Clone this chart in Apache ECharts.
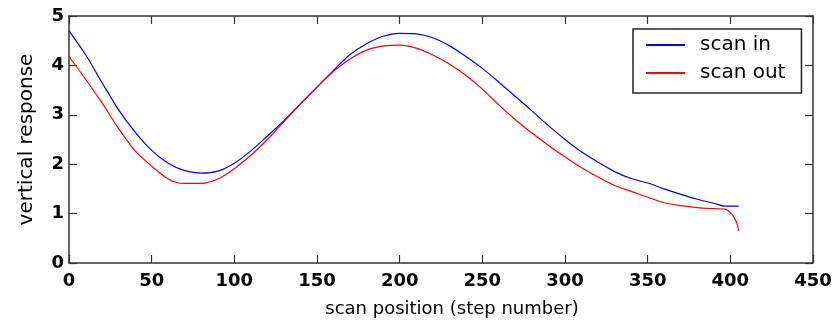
<!DOCTYPE html>
<html><head><meta charset="utf-8">
<script src="https://cdn.jsdelivr.net/npm/echarts@6/dist/echarts.min.js"></script>
<style>html,body{margin:0;padding:0;background:#fff}#c{width:839px;height:320px}</style>
</head><body><div id="c"></div>
<script>
const xTicks = [0, 50, 100, 150, 200, 250, 300, 350, 400, 450];
const yTicks = [0, 1, 2, 3, 4, 5];
const seriesNames = ['scan in', 'scan out'];

const scanInX = [0,10,20,30,40,50,60,70,80,90,100,110,120,130,140,150,160,170,180,190,200,210,220,230,240,250,260,270,280,290,300,310,320,330,340,350,360,370,380,390,397,405];
const scanInY = [4.70,4.22,3.65,3.10,2.65,2.28,2.02,1.87,1.82,1.86,2.02,2.27,2.57,2.88,3.22,3.56,3.90,4.22,4.44,4.59,4.65,4.64,4.56,4.40,4.18,3.94,3.66,3.37,3.08,2.78,2.50,2.25,2.04,1.85,1.71,1.62,1.50,1.39,1.29,1.21,1.15,1.15];

const scanOutX = [0,10,20,30,40,50,60,65,70,80,90,100,110,120,130,140,150,160,170,180,190,200,210,220,230,240,250,260,270,280,290,300,310,320,330,340,350,360,370,380,390,397,400,402,404,405];
const scanOutY = [4.18,3.72,3.24,2.72,2.27,1.96,1.70,1.63,1.61,1.61,1.70,1.91,2.18,2.50,2.86,3.22,3.56,3.88,4.13,4.31,4.39,4.41,4.35,4.21,4.03,3.80,3.52,3.20,2.90,2.63,2.38,2.15,1.93,1.74,1.57,1.45,1.33,1.22,1.16,1.12,1.10,1.09,1.02,0.94,0.80,0.65];

const zip = (xs, ys) => xs.map((x, i) => [x, ys[i]]);

const chart = echarts.init(document.getElementById('c'), null, {renderer: 'canvas'});
const tickFont = {fontFamily: 'DejaVu Sans', fontWeight: 'bold', fontSize: 18, color: '#000'};
const axLine = {show: true, onZero: false, lineStyle: {color: '#333', width: 1.5}};
const tick = {show: true, inside: true, length: 8, lineStyle: {color: '#333', width: 1.2}};
const xMin = xTicks[0], xMax = xTicks[xTicks.length - 1], xInt = xTicks[1] - xTicks[0];
const yMin = yTicks[0], yMax = yTicks[yTicks.length - 1], yInt = yTicks[1] - yTicks[0];

chart.setOption({
  animation: false,
  backgroundColor: '#fff',
  grid: {left: 69, right: 26, top: 16, bottom: 57, containLabel: false, outerBoundsMode: 'none'},
  legend: {
    data: seriesNames,
    orient: 'vertical',
    left: 633, top: 29,
    padding: [6, 16, 10, 13],
    itemWidth: 39, itemHeight: 2, itemGap: 8, itemTextGap: 5,
    icon: 'rect',
    borderColor: '#222', borderWidth: 1.5,
    backgroundColor: '#fff',
    textStyle: {fontFamily: 'DejaVu Sans', fontSize: 20, color: '#000', lineHeight: 20, padding: [0, 0, 0, 10]}
  },
  xAxis: [{
    type: 'value', min: xMin, max: xMax, interval: xInt, position: 'bottom',
    name: 'scan position (step number)', nameLocation: 'middle', nameGap: 37,
    nameTextStyle: {fontFamily: 'DejaVu Sans', fontSize: 18, color: '#000', padding: [0, 0, 0, 22]},
    axisLine: axLine, axisTick: tick, splitLine: {show: false},
    axisLabel: Object.assign({margin: 9}, tickFont)
  }, {
    type: 'value', min: xMin, max: xMax, interval: xInt, position: 'top',
    axisLine: axLine, axisTick: tick, splitLine: {show: false}, axisLabel: {show: false}
  }],
  yAxis: [{
    type: 'value', min: yMin, max: yMax, interval: yInt, position: 'left',
    name: 'vertical response', nameLocation: 'middle', nameGap: 32, nameRotate: 90,
    nameTextStyle: {fontFamily: 'DejaVu Sans', fontSize: 20, color: '#000'},
    axisLine: axLine, axisTick: tick, splitLine: {show: false},
    axisLabel: Object.assign({margin: 5}, tickFont)
  }, {
    type: 'value', min: yMin, max: yMax, interval: yInt, position: 'right',
    axisLine: axLine, axisTick: tick, splitLine: {show: false}, axisLabel: {show: false}
  }],
  series: [{
    name: seriesNames[0], type: 'line', data: zip(scanInX, scanInY),
    showSymbol: false, symbol: 'none', smooth: 0.3,
    lineStyle: {color: '#0000ff', width: 1.2}, itemStyle: {color: '#0000ff'}
  }, {
    name: seriesNames[1], type: 'line', data: zip(scanOutX, scanOutY),
    showSymbol: false, symbol: 'none', smooth: 0.3,
    lineStyle: {color: '#ff0000', width: 1.2}, itemStyle: {color: '#ff0000'}
  }]
});
</script></body></html>
